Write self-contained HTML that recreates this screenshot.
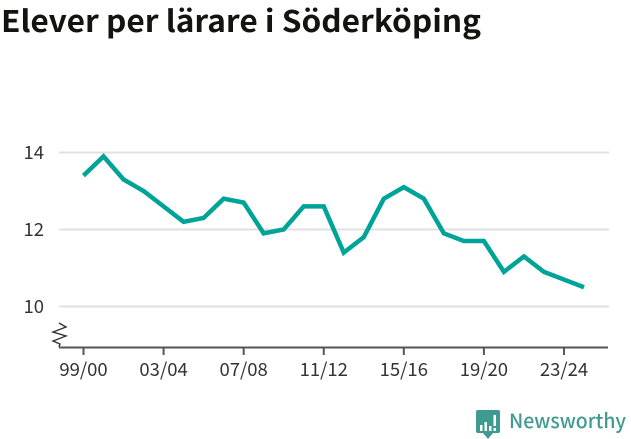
<!DOCTYPE html>
<html lang="sv">
<head>
<meta charset="utf-8">
<title>Elever per lärare i Söderköping</title>
<style>
html,body{margin:0;padding:0;background:#fff;width:631px;height:439px;overflow:hidden}
svg{display:block}
text{font-family:"Noto Sans CJK SC","DejaVu Sans","Liberation Sans",sans-serif}
</style>
</head>
<body>
<svg id="chart" width="631" height="439" viewBox="0 0 631 439" xmlns="http://www.w3.org/2000/svg">
  <text x="1" y="32" font-size="30" font-weight="700" fill="#14140f" textLength="480" lengthAdjust="spacingAndGlyphs">Elever per lärare i Söderköping</text>
  <g id="grid"></g>
  <g id="yticks"></g>
  <path d="M59 323 L66 327 L53 332 L66 336 L53 341 L60 344 L59 347" fill="none" stroke="#333" stroke-width="1.4"/>
  <line x1="59" x2="608" y1="347.5" y2="347.5" stroke="#555" stroke-width="2"/>
  <g id="xticks"></g>
  <path id="series" fill="none" stroke="#00a398" stroke-width="4.5" stroke-linejoin="miter"/>
  <g>
    <path d="M478 410 H498 Q500 410 500 412 V431 Q500 433 498 433 H493 L488 439 L483 433 H478 Q476 433 476 431 V412 Q476 410 478 410 Z" fill="#3f9b90"/>
    <rect x="480" y="425" width="2.5" height="6" fill="#fff"/>
    <rect x="484.500" y="422" width="2.5" height="9" fill="#fff"/>
    <rect x="489" y="426" width="2.5" height="5" fill="#fff"/>
    <rect x="493.500" y="415" width="2.5" height="11" fill="#fff"/>
    <rect x="493.500" y="428" width="2.5" height="3" fill="#fff"/>
    <text x="509" y="428" font-size="20" font-weight="500" fill="#3f9b90" textLength="117" lengthAdjust="spacingAndGlyphs">Newsworthy</text>
  </g>
</svg>
<script>
const categories = ["99/00","00/01","01/02","02/03","03/04","04/05","05/06","06/07","07/08","08/09","09/10","10/11","11/12","12/13","13/14","14/15","15/16","16/17","17/18","18/19","19/20","20/21","21/22","22/23","23/24","24/25"];
const seriesValues = [13.4,13.9,13.3,13.0,12.6,12.2,12.3,12.8,12.7,11.9,12.0,12.6,12.6,11.4,11.8,12.8,13.1,12.8,11.9,11.7,11.7,10.9,11.3,10.9,10.7,10.5];
const yTickValues = [10,12,14];
const xTickLabels = ["99/00","03/04","07/08","11/12","15/16","19/20","23/24"];

const NS = 'http://www.w3.org/2000/svg';
function xScale(i){ return 83.5 + i * 20.02; }
function yScale(v){ return 306.5 - (v - 10) * 38.5; }
function make(tag, attrs, parent, txt){
  const el = document.createElementNS(NS, tag);
  for (const k in attrs) el.setAttribute(k, attrs[k]);
  if (txt !== undefined) el.textContent = txt;
  parent.appendChild(el);
  return el;
}
const grid = document.getElementById('grid');
const yticks = document.getElementById('yticks');
yTickValues.forEach(function(v){
  const line = make('line', {x1:59, x2:609, y1:yScale(v), y2:yScale(v), stroke:'#e0e0e0', 'stroke-width':2}, grid);
  
  
  const label = make('text', {x:44, y:yScale(v)+6.5, 'text-anchor':'end', 'font-size':18.5, fill:'#333'}, yticks, String(v));
  
  
});
const xticks = document.getElementById('xticks');
xTickLabels.forEach(function(lab){
  const i = categories.indexOf(lab);
  const x = xScale(i);
  const tick = make('line', {x1:x, x2:x, y1:348, y2:355, stroke:'#555', 'stroke-width':2}, xticks);
  
  
  const label = make('text', {x:x, y:376, 'text-anchor':'middle', 'font-size':18.5, fill:'#333'}, xticks, lab);
  
  
});
document.getElementById('series').setAttribute('d', seriesValues.map(function(v,i){
  return (i ? 'L' : 'M') + xScale(i) + ' ' + yScale(v);
}).join(' '));
</script>
</body>
</html>
